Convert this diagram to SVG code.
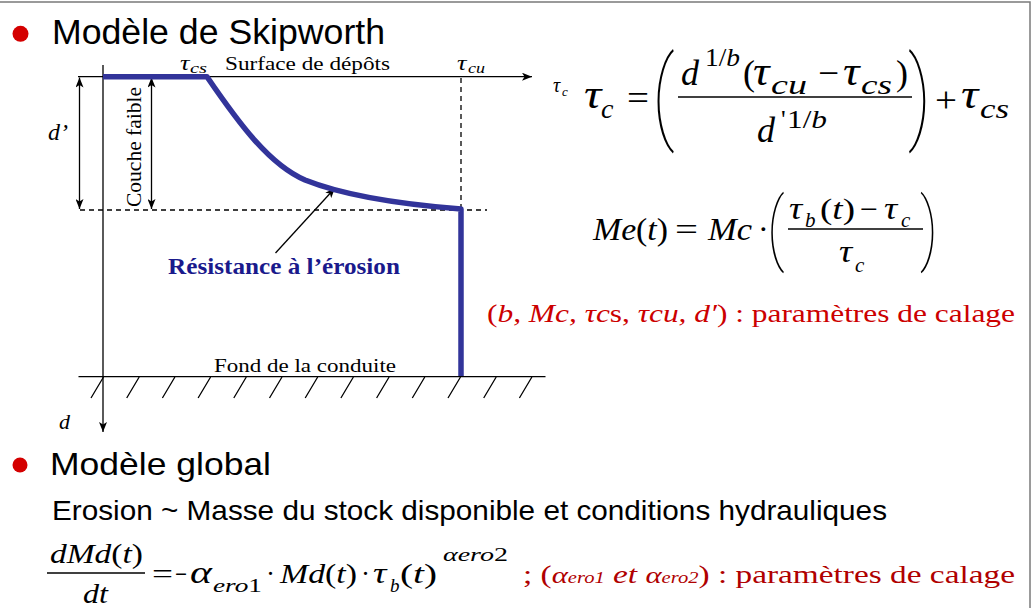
<svg xmlns="http://www.w3.org/2000/svg" width="1033" height="608" viewBox="0 0 1033 608">
<defs>
<marker id="ah" viewBox="0 0 10 8" refX="10" refY="4" markerWidth="10" markerHeight="8" markerUnits="userSpaceOnUse" orient="auto-start-reverse"><path d="M0,0 L10,4 L0,8 L2.5,4 z" fill="#000"/></marker>
<style>
.sans{font-family:"Liberation Sans",Arial,sans-serif;fill:#000}
.serif{font-family:"Liberation Serif","Times New Roman",serif;fill:#000}
.it{font-style:italic}
.bd{font-weight:bold}
.pr{font-family:Roboto,"Liberation Sans",sans-serif;font-weight:100;fill:#000}
.ln{stroke:#000;stroke-width:1.3;fill:none}
.dash{stroke:#000;stroke-width:1.3;stroke-dasharray:5 4;fill:none}
.red{fill:#cc0000}
.dred{fill:#b00000}
.bul{fill:#d40000}
.blue{stroke:#32349a;stroke-width:5.5;fill:none;stroke-linejoin:round}
</style>
</defs>
<rect x="0" y="0" width="1033" height="608" fill="#fff"/>
<rect id="frame" x="-2" y="2" width="1032" height="620" fill="none" stroke="#7a7a7a" stroke-width="1.5"/>

<g id="title1">
<circle class="bul" cx="20.5" cy="33.8" r="8"/>
<text class="sans" x="52" y="43.5" font-size="35" textLength="333" lengthAdjust="spacingAndGlyphs">Modèle de Skipworth</text>
</g>

<g id="connectors">
<line class="ln" x1="78" y1="76.7" x2="532" y2="76.7" marker-end="url(#ah)"/>
<line class="ln" x1="103" y1="65" x2="103" y2="432" marker-end="url(#ah)"/>
<line class="ln" x1="79.5" y1="77.5" x2="79.5" y2="209" marker-start="url(#ah)" marker-end="url(#ah)"/>
<line class="ln" x1="151.5" y1="77.5" x2="151.5" y2="209" marker-start="url(#ah)" marker-end="url(#ah)"/>
<line class="dash" x1="80" y1="210" x2="487" y2="210"/>
<line class="dash" x1="461" y1="78" x2="461" y2="210"/>
<line class="ln" x1="275.5" y1="253" x2="335" y2="188" marker-end="url(#ah)"/>
</g>

<g id="ground">
<line class="ln" x1="78.5" y1="376.7" x2="545.5" y2="376.7"/>
<path class="ln" d="M91,398 l12.5,-21 M126.7,398 l12.5,-21 M162.4,398 l12.5,-21 M198.1,398 l12.5,-21 M233.8,398 l12.5,-21 M269.5,398 l12.5,-21 M305.2,398 l12.5,-21 M340.9,398 l12.5,-21 M376.6,398 l12.5,-21 M412.3,398 l12.5,-21 M448,398 l12.5,-21 M483.7,398 l12.5,-21 M519.4,398 l12.5,-21"/>
</g>

<g id="resistance-curve">
<path class="blue" d="M103,76.7 H207 C240,125 270,165 305,180 C350,198 410,205 461,209 V376"/>
</g>

<g id="diagram-labels">
<text class="serif it" transform="translate(180,70) scale(1.2,1)" font-size="22">τ</text>
<text class="serif it" x="190" y="73" font-size="15" textLength="17" lengthAdjust="spacingAndGlyphs">cs</text>
<text class="serif" x="225" y="70" font-size="19" textLength="165" lengthAdjust="spacingAndGlyphs">Surface de dépôts</text>
<text class="serif it" transform="translate(457,70) scale(1.2,1)" font-size="22">τ</text>
<text class="serif it" x="468" y="73" font-size="15" textLength="17" lengthAdjust="spacingAndGlyphs">cu</text>
<text class="serif it" x="553" y="92" font-size="20">τ</text>
<text class="serif it" x="562" y="96" font-size="13">c</text>
<text class="serif it" x="48" y="140" font-size="24" textLength="20" lengthAdjust="spacingAndGlyphs">d’</text>
<text class="serif" transform="translate(141,207) rotate(-90)" x="0" y="0" font-size="20" textLength="120" lengthAdjust="spacingAndGlyphs">Couche faible</text>
<text class="serif bd" x="168" y="274" font-size="23" style="fill:#1a1a8c" textLength="232" lengthAdjust="spacingAndGlyphs">Résistance à l’érosion</text>
<text class="serif" x="214" y="371.5" font-size="19" textLength="182" lengthAdjust="spacingAndGlyphs">Fond de la conduite</text>
<text class="serif it" x="59" y="429" font-size="22">d</text>
</g>

<g id="formula-tau-c" class="serif">
<text class="it" transform="translate(584,108) scale(1.15,1)" font-size="42">τ</text>
<text class="it" x="601" y="118" font-size="28">c</text>
<text x="627" y="110" font-size="36" textLength="22" lengthAdjust="spacingAndGlyphs">=</text>
<text class="pr" transform="translate(652,130) scale(0.75,1)" font-size="102">(</text>
<text class="it" x="681" y="85" font-size="36">d</text>
<text x="705" y="66" font-size="26" textLength="35" lengthAdjust="spacingAndGlyphs">1/<tspan class="it">b</tspan></text>
<text x="743" y="85" font-size="36">(</text>
<text class="it" transform="translate(753,85) scale(1.15,1)" font-size="40">τ</text>
<text class="it" x="771" y="94" font-size="28" textLength="36" lengthAdjust="spacingAndGlyphs">cu</text>
<text x="818" y="85" font-size="36" textLength="21" lengthAdjust="spacingAndGlyphs">−</text>
<text class="it" transform="translate(843,85) scale(1.15,1)" font-size="40">τ</text>
<text class="it" x="861" y="94" font-size="28" textLength="31" lengthAdjust="spacingAndGlyphs">cs</text>
<text x="896" y="85" font-size="36">)</text>
<line x1="678" y1="97" x2="912" y2="97" stroke="#000" stroke-width="1.6"/>
<text class="it" x="757" y="142" font-size="36">d</text>
<text x="781" y="128" font-size="26">'</text>
<text x="787" y="128" font-size="26" textLength="40" lengthAdjust="spacingAndGlyphs">1/<tspan class="it">b</tspan></text>
<text class="pr" transform="translate(908,130) scale(0.75,1)" font-size="102">)</text>
<text x="935" y="112" font-size="36" textLength="22" lengthAdjust="spacingAndGlyphs">+</text>
<text class="it" transform="translate(961,108) scale(1.15,1)" font-size="42">τ</text>
<text class="it" x="980" y="118" font-size="28" textLength="29" lengthAdjust="spacingAndGlyphs">cs</text>
</g>

<g id="formula-me" class="serif">
<text x="593" y="240" font-size="32" textLength="75" lengthAdjust="spacingAndGlyphs"><tspan class="it">Me</tspan>(<tspan class="it">t</tspan>)</text>
<text x="675" y="240" font-size="32" textLength="23" lengthAdjust="spacingAndGlyphs">=</text>
<text class="it" x="708" y="240" font-size="32" textLength="44" lengthAdjust="spacingAndGlyphs">Mc</text>
<text x="758" y="240" font-size="32">·</text>
<text class="pr" transform="translate(767,255) scale(0.75,1)" font-size="79">(</text>
<text class="it" transform="translate(789,219) scale(1.15,1)" font-size="32">τ</text>
<text class="it" x="805" y="227" font-size="21">b</text>
<text x="820" y="219" font-size="30" textLength="35" lengthAdjust="spacingAndGlyphs">(<tspan class="it">t</tspan>)</text>
<text x="860" y="219" font-size="30" textLength="18" lengthAdjust="spacingAndGlyphs">−</text>
<text class="it" transform="translate(884,219) scale(1.15,1)" font-size="32">τ</text>
<text class="it" x="901" y="227" font-size="21">c</text>
<line x1="788" y1="229" x2="923" y2="229" stroke="#000" stroke-width="1.5"/>
<text class="it" transform="translate(839,262) scale(1.15,1)" font-size="32">τ</text>
<text class="it" x="855" y="272" font-size="21">c</text>
<text class="pr" transform="translate(920,255) scale(0.75,1)" font-size="79">)</text>
</g>

<g id="params-1">
<text class="serif red" x="487" y="322" font-size="26" textLength="528" lengthAdjust="spacingAndGlyphs">(<tspan class="it">b, Mc, τc</tspan>s, <tspan class="it">τcu, d′</tspan>) : paramètres de calage</text>
</g>

<g id="title2">
<circle class="bul" cx="20" cy="465" r="7.5"/>
<text class="sans" x="50" y="475" font-size="32" textLength="221" lengthAdjust="spacingAndGlyphs">Modèle global</text>
<text class="sans" x="52" y="520" font-size="28" textLength="835" lengthAdjust="spacingAndGlyphs">Erosion ~ Masse du stock disponible et conditions hydrauliques</text>
</g>

<g id="formula-md" class="serif">
<text x="50" y="563" font-size="27" textLength="93" lengthAdjust="spacingAndGlyphs"><tspan class="it">dMd</tspan>(<tspan class="it">t</tspan>)</text>
<line x1="47" y1="573" x2="145" y2="573" stroke="#000" stroke-width="1.3"/>
<text class="it" x="83" y="603" font-size="27" textLength="25" lengthAdjust="spacingAndGlyphs">dt</text>
<text x="152" y="583" font-size="27" textLength="21" lengthAdjust="spacingAndGlyphs">=</text>
<text x="175" y="583" font-size="27" textLength="12" lengthAdjust="spacingAndGlyphs">−</text>
<text class="it" transform="translate(190,583) scale(1.3,1)" font-size="32">α</text>
<text x="213" y="592" font-size="19" textLength="49" lengthAdjust="spacingAndGlyphs"><tspan class="it">ero</tspan>1</text>
<text x="266" y="583" font-size="27">·</text>
<text x="280" y="583" font-size="27" textLength="77" lengthAdjust="spacingAndGlyphs"><tspan class="it">Md</tspan>(<tspan class="it">t</tspan>)</text>
<text x="361" y="583" font-size="27">·</text>
<text class="it" transform="translate(373,583) scale(1.25,1)" font-size="30">τ</text>
<text class="it" x="390" y="592" font-size="19">b</text>
<text x="400" y="583" font-size="27" textLength="37" lengthAdjust="spacingAndGlyphs">(<tspan class="it">t</tspan>)</text>
<text x="443" y="561" font-size="19" textLength="65" lengthAdjust="spacingAndGlyphs"><tspan class="it">αero</tspan>2</text>
</g>

<g id="params-2">
<text class="serif dred" x="523" y="583" font-size="26" textLength="492" lengthAdjust="spacingAndGlyphs">; (<tspan class="it" font-size="24">α</tspan><tspan class="it" font-size="16">ero1</tspan><tspan class="it"> et </tspan><tspan class="it" font-size="24">α</tspan><tspan class="it" font-size="16">ero2</tspan>) : paramètres de calage</text>
</g>
</svg>
